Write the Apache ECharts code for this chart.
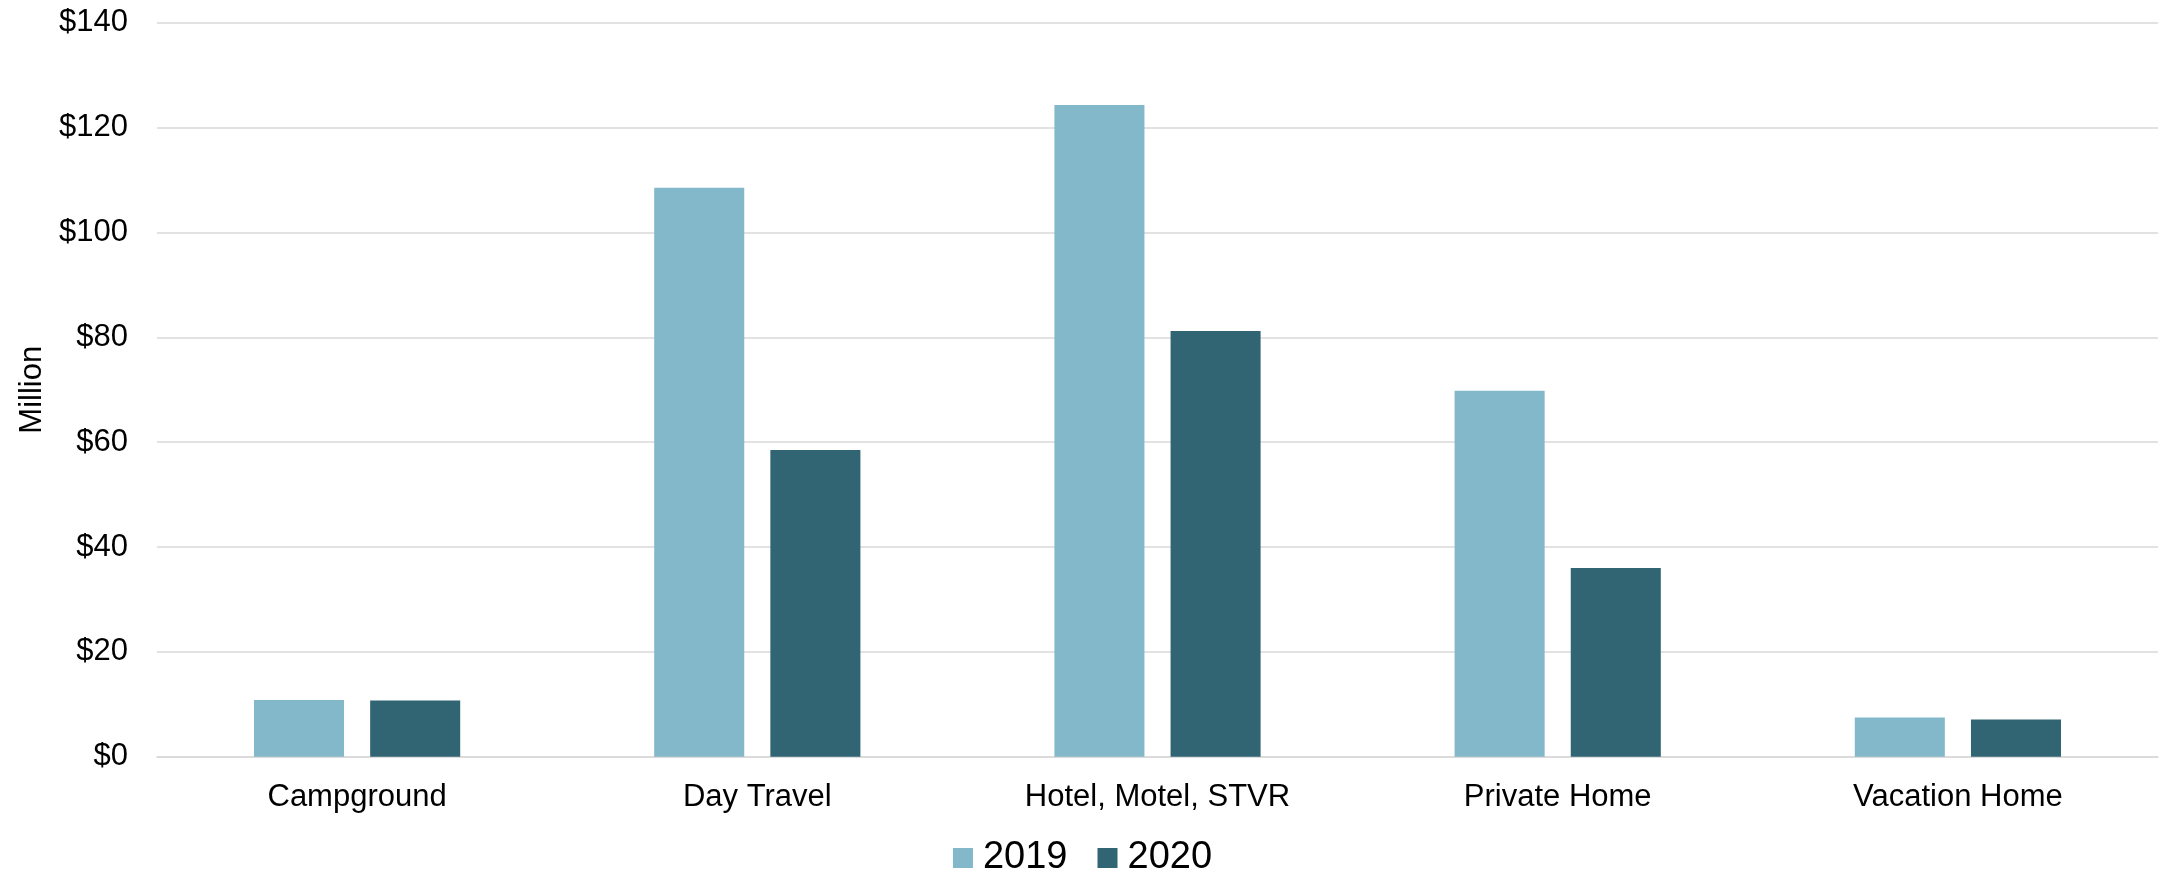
<!DOCTYPE html>
<html>
<head>
<meta charset="utf-8">
<script src="https://cdn.jsdelivr.net/npm/echarts@6/dist/echarts.min.js"></script>
<style>
  html, body { margin: 0; padding: 0; background: #fff; }
  #chart { width: 2165px; height: 875px; }
</style>
</head>
<body>
<div id="chart"></div>
<script>
const categories = ['Campground', 'Day Travel', 'Hotel, Motel, STVR', 'Private Home', 'Vacation Home'];
const values2019 = [10.8, 108.5, 124.3, 69.8, 7.5];
const values2020 = [10.7, 58.5, 81.2, 36.0, 7.1];
const yTicks = { min: 0, max: 140, interval: 20 };

const font = "'Liberation Sans', Arial, sans-serif";
const chart = echarts.init(document.getElementById('chart'), null, { renderer: 'canvas' });

chart.setOption({
    backgroundColor: '#ffffff',
    animation: false,
    textStyle: { fontFamily: font },
    grid: { left: 157, right: 7, top: 22.7, bottom: 118.3 },
    legend: {
        data: ['2019', '2020'],
        top: 839,
        left: 'center',
        padding: 0,
        icon: 'rect',
        itemWidth: 20,
        itemHeight: 20,
        itemGap: 30,
        textStyle: { fontSize: 38, color: '#000', fontFamily: font, padding: [0, 0, 0, 5] }
    },
    xAxis: {
        type: 'category',
        data: categories,
        axisLine: { show: true, lineStyle: { color: '#d9d9d9', width: 1.5 } },
        axisTick: { show: false },
        axisLabel: { color: '#000', fontSize: 31, margin: 25, interval: 0 }
    },
    yAxis: {
        type: 'value',
        min: yTicks.min,
        max: yTicks.max,
        interval: yTicks.interval,
        name: 'Million',
        nameLocation: 'middle',
        nameRotate: 90,
        nameGap: 106,
        nameTextStyle: { color: '#000', fontSize: 31, fontFamily: "'Liberation Sans Narrow', 'Liberation Sans', Arial, sans-serif" },
        axisLine: { show: false },
        axisTick: { show: false },
        axisLabel: { color: '#000', fontSize: 31, margin: 29, formatter: '${value}' },
        splitLine: { lineStyle: { color: '#d9d9d9', width: 1.5 } }
    },
    series: [
        {
            name: '2019',
            type: 'bar',
            data: values2019,
            barWidth: '22.5%',
            barGap: '29%',
            itemStyle: { color: '#82b8c9' }
        },
        {
            name: '2020',
            type: 'bar',
            data: values2020,
            barWidth: '22.5%',
            itemStyle: { color: '#316573' }
        }
    ]
});
</script>
</body>
</html>
